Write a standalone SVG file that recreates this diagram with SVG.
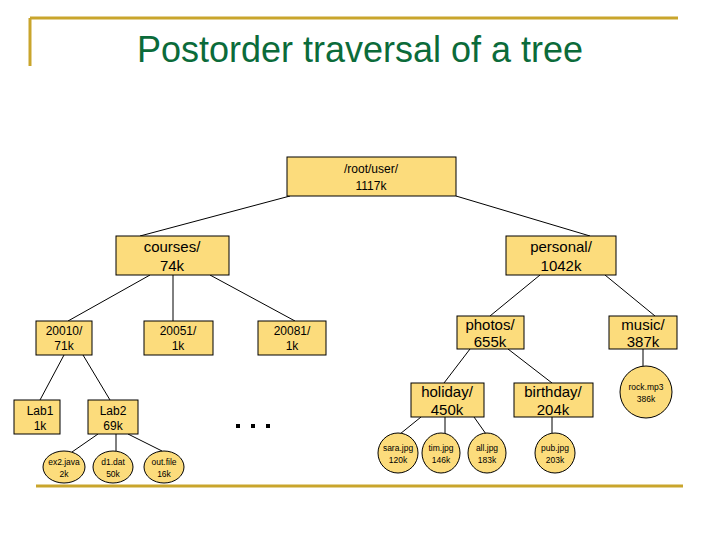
<svg xmlns="http://www.w3.org/2000/svg" width="720" height="540" viewBox="0 0 720 540">
<style>
.n{fill:#fcdc7c;stroke:#000;stroke-width:1}
text{font-family:"Liberation Sans",Arial,sans-serif;fill:#000;text-anchor:middle}
.s{font-size:12px}.m{font-size:15px}.t{font-size:8.5px}
#edges line{stroke:#000;stroke-width:1}
.f{stroke:#c9a52c;stroke-width:3}
</style>
<rect width="720" height="540" fill="#fff"/>
<line class="f" x1="30" y1="18" x2="678" y2="18"/>
<line class="f" x1="30" y1="18" x2="30" y2="66"/>
<line class="f" x1="36" y1="486" x2="683" y2="486"/>
<text x="360" y="62" style="font-size:36px;fill:#0b6b3a">Postorder traversal of a tree</text>
<g id="edges">
<line x1="290" y1="196" x2="140" y2="236"/><line x1="456" y1="196" x2="590" y2="236"/>
<line x1="150" y1="275" x2="68" y2="321"/><line x1="173" y1="275" x2="173" y2="321"/><line x1="210" y1="275" x2="295" y2="321"/>
<line x1="540" y1="275" x2="490" y2="316"/><line x1="605" y1="275" x2="655" y2="316"/>
<line x1="64" y1="355" x2="40" y2="400"/><line x1="83" y1="355" x2="110" y2="400"/>
<line x1="98" y1="434" x2="72" y2="452"/><line x1="116" y1="434" x2="116" y2="451"/><line x1="128" y1="434" x2="162" y2="451"/>
<line x1="470" y1="349" x2="444" y2="383"/><line x1="508" y1="349" x2="552" y2="383"/>
<line x1="421" y1="417" x2="400" y2="434"/><line x1="445" y1="417" x2="445" y2="434"/><line x1="474" y1="417" x2="486" y2="434"/>
<line x1="552" y1="417" x2="552" y2="433"/><line x1="643" y1="349" x2="643" y2="366"/>
</g>
<g id="root"><rect class="n" x="287" y="157" width="169" height="39"/><text class="s" x="371" y="173">/root/user/</text><text class="s" x="371" y="190">1117k</text></g>
<g id="courses"><rect class="n" x="116" y="236" width="113" height="39"/><text class="m" x="172" y="252">courses/</text><text class="m" x="172" y="271">74k</text></g>
<g id="personal"><rect class="n" x="506" y="236" width="110" height="39"/><text class="m" x="561" y="252">personal/</text><text class="m" x="561" y="271">1042k</text></g>
<g id="n20010"><rect class="n" x="36" y="321" width="56" height="34"/><text class="s" x="64" y="335">20010/</text><text class="s" x="64" y="350">71k</text></g>
<g id="n20051"><rect class="n" x="144" y="321" width="69" height="34"/><text class="s" x="178" y="335">20051/</text><text class="s" x="178" y="350">1k</text></g>
<g id="n20081"><rect class="n" x="258" y="321" width="68" height="34"/><text class="s" x="292" y="335">20081/</text><text class="s" x="292" y="350">1k</text></g>
<g id="photos"><rect class="n" x="457" y="316" width="67" height="33"/><text class="m" x="490" y="330">photos/</text><text class="m" x="490" y="347">655k</text></g>
<g id="music"><rect class="n" x="609" y="316" width="68" height="33"/><text class="m" x="643" y="330">music/</text><text class="m" x="643" y="347">387k</text></g>
<g id="lab1"><rect class="n" x="14" y="400" width="46" height="34"/><text class="s" x="40" y="415">Lab1</text><text class="s" x="40" y="430">1k</text></g>
<g id="lab2"><rect class="n" x="88" y="400" width="50" height="34"/><text class="s" x="113" y="415">Lab2</text><text class="s" x="113" y="430">69k</text></g>
<g id="holiday"><rect class="n" x="411" y="383" width="73" height="34"/><text class="m" x="447" y="397">holiday/</text><text class="m" x="447" y="415">450k</text></g>
<g id="birthday"><rect class="n" x="514" y="383" width="79" height="34"/><text class="m" x="553" y="397">birthday/</text><text class="m" x="553" y="415">204k</text></g>
<g id="ex2"><ellipse class="n" cx="64" cy="467" rx="21" ry="16"/><text class="t" x="64" y="465">ex2.java</text><text class="t" x="64" y="477">2k</text></g>
<g id="d1"><ellipse class="n" cx="113" cy="467" rx="20" ry="16"/><text class="t" x="113" y="465">d1.dat</text><text class="t" x="113" y="477">50k</text></g>
<g id="out"><ellipse class="n" cx="164" cy="467" rx="20" ry="16"/><text class="t" x="164" y="465">out.file</text><text class="t" x="164" y="477">16k</text></g>
<g id="sara"><ellipse class="n" cx="398" cy="453" rx="20" ry="20"/><text class="t" x="398" y="451">sara.jpg</text><text class="t" x="398" y="463">120k</text></g>
<g id="tim"><ellipse class="n" cx="441" cy="453" rx="19" ry="20"/><text class="t" x="441" y="451">tim.jpg</text><text class="t" x="441" y="463">146k</text></g>
<g id="all"><ellipse class="n" cx="487" cy="453" rx="19" ry="20"/><text class="t" x="487" y="451">all.jpg</text><text class="t" x="487" y="463">183k</text></g>
<g id="pub"><ellipse class="n" cx="555" cy="453" rx="20" ry="20"/><text class="t" x="555" y="451">pub.jpg</text><text class="t" x="555" y="463">203k</text></g>
<g id="rock"><circle class="n" cx="646" cy="392" r="26"/><text class="t" x="646" y="390">rock.mp3</text><text class="t" x="646" y="402">386k</text></g>
<g id="dots"><rect x="236" y="424" width="4" height="4"/><rect x="251" y="424" width="4" height="4"/><rect x="266" y="424" width="4" height="4"/></g>
</svg>
